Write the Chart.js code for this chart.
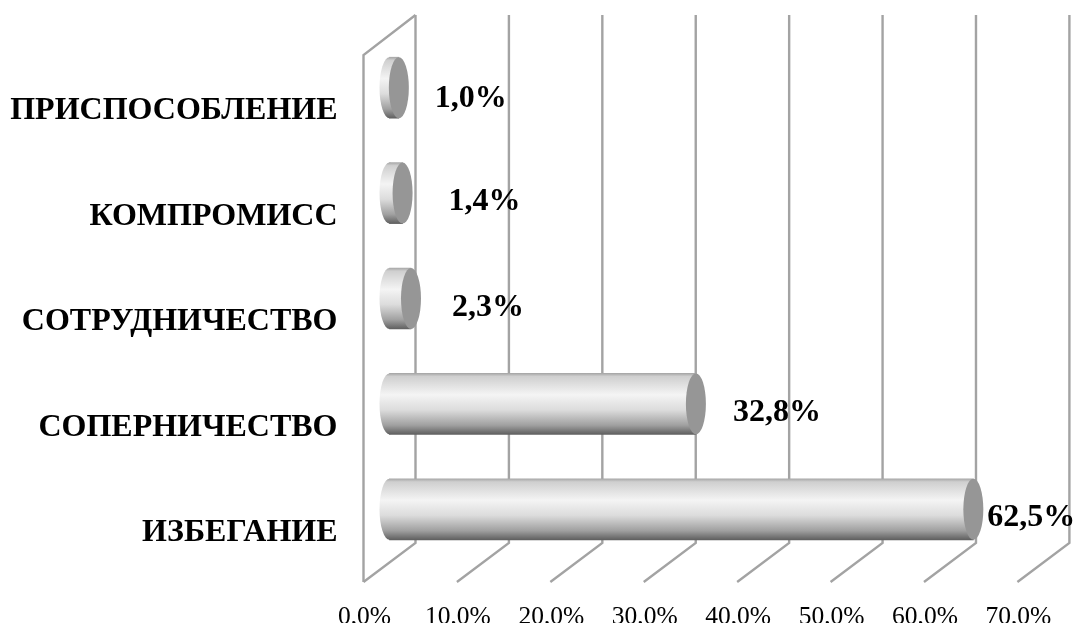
<!DOCTYPE html>
<html lang="ru">
<head>
<meta charset="utf-8">
<title>Стратегии поведения в конфликте</title>
<script src="https://cdn.jsdelivr.net/npm/chart.js@4"></script>
<style>
    html, body { margin: 0; padding: 0; background: #fff; overflow: hidden; }
    canvas { display: block; filter: blur(0.4px); }
</style>
</head>
<body>
<canvas id="chart" width="1074" height="623"></canvas>
<script>
// Data
const categories = ['ПРИСПОСОБЛЕНИЕ', 'КОМПРОМИСС', 'СОТРУДНИЧЕСТВО', 'СОПЕРНИЧЕСТВО', 'ИЗБЕГАНИЕ'];
const values = [1.0, 1.4, 2.3, 32.8, 62.5];
const xTicks = ['0,0%', '10,0%', '20,0%', '30,0%', '40,0%', '50,0%', '60,0%', '70,0%'];

// Fake 3D look
const WALL = { dx: 52, dy: -39, top: 15 };      // back wall offset from the front plane
const BAR_DEPTH = { dx: 26, dy: -20 };          // bars stand halfway into the box
const BAR_H = 61;
const CAP_RX = 10;
const GRID = '#a3a3a3';
const CAP = '#969696';
const FONT = '"Liberation Serif", "Times New Roman", serif';

// Hand placed data labels, the original has them dragged around
const labelShift = [[72, 11.5], [82, 9], [77, 9.5], [81, 9], [58, 8]];

function barGradient(ctx, y) {
    // the first option pass runs before the scales have pixels
    if (!Number.isFinite(y)) return '#cdcdcd';
    const g = ctx.createLinearGradient(0, y - BAR_H / 2, 0, y + BAR_H / 2);
    g.addColorStop(0, '#a8a8a8');
    g.addColorStop(0.05, '#cfcfcf');
    g.addColorStop(0.35, '#f4f4f4');
    g.addColorStop(0.6, '#dcdcdc');
    g.addColorStop(0.85, '#a0a0a0');
    g.addColorStop(1, '#606060');
    return g;
}

function ellipse(ctx, x, y, fill) {
    ctx.beginPath();
    ctx.ellipse(x, y, CAP_RX, BAR_H / 2, 0, 0, Math.PI * 2);
    ctx.fillStyle = fill;
    ctx.fill();
}

const box3d = {
    id: 'box3d',
    beforeDatasetsDraw(chart) {
        const { ctx, chartArea: area, scales: { x } } = chart;
        ctx.save();
        ctx.strokeStyle = GRID;
        ctx.lineWidth = 2.4;
        xTicks.forEach((t, i) => {
            const px = x.getPixelForValue(i * 10);
            ctx.beginPath();
            ctx.moveTo(px, area.bottom);
            ctx.lineTo(px + WALL.dx, area.bottom + WALL.dy);
            ctx.lineTo(px + WALL.dx, WALL.top);
            ctx.stroke();
        });
        // left side of the box
        const x0 = x.getPixelForValue(0);
        ctx.beginPath();
        ctx.moveTo(x0, area.bottom);
        ctx.lineTo(x0, area.top);
        ctx.lineTo(x0 + WALL.dx, WALL.top);
        ctx.stroke();
        ctx.restore();

        // everything from here to afterDatasetsDraw sits deeper in the box
        ctx.save();
        ctx.translate(BAR_DEPTH.dx, BAR_DEPTH.dy);
        chart.getDatasetMeta(0).data.forEach(bar => {
            ellipse(ctx, x0, bar.y, barGradient(ctx, bar.y));
            bar.options.backgroundColor = barGradient(ctx, bar.y);
        });
    },
    afterDatasetsDraw(chart) {
        const { ctx } = chart;
        chart.getDatasetMeta(0).data.forEach(bar => {
            ellipse(ctx, bar.x, bar.y, CAP);
        });
        ctx.restore();

        ctx.save();
        ctx.fillStyle = '#000';
        ctx.font = 'bold 32px ' + FONT;
        ctx.textAlign = 'center';
        ctx.textBaseline = 'middle';
        chart.getDatasetMeta(0).data.forEach((bar, i) => {
            const text = values[i].toFixed(1).replace('.', ',') + '%';
            ctx.fillText(text, bar.x + BAR_DEPTH.dx + labelShift[i][0], bar.y + BAR_DEPTH.dy + labelShift[i][1]);
        });
        ctx.restore();
    }
};

new Chart(document.getElementById('chart'), {
    type: 'bar',
    plugins: [box3d],
    data: {
        labels: categories,
        datasets: [{
            data: values,
            barThickness: BAR_H,
            clip: false,
            borderWidth: 0,
            backgroundColor: c => barGradient(c.chart.ctx, c.chart.scales.y.getPixelForValue(c.dataIndex))
        }]
    },
    options: {
        indexAxis: 'y',
        responsive: false,
        animation: false,
        layout: { padding: { top: 55, right: 56.6, left: 0, bottom: 0 } },
        plugins: { legend: { display: false }, tooltip: { enabled: false } },
        scales: {
            x: {
                min: 0,
                max: 70,
                afterFit: s => { s.height = 41; },
                grid: { display: false, drawTicks: false },
                border: { display: false },
                ticks: {
                    stepSize: 10,
                    maxRotation: 0,
                    autoSkip: false,
                    padding: 20,
                    labelOffset: 1,
                    color: '#000',
                    font: { family: FONT, size: 25.5 },
                    callback: (v, i) => xTicks[i]
                }
            },
            y: {
                // label overhang would otherwise push the plot up from the x axis
                afterFit: s => { s.width = 363.5; s.paddingTop = 0; s.paddingBottom = 0; },
                grid: { display: false, drawTicks: false },
                border: { display: false },
                ticks: {
                    padding: 26,
                    labelOffset: 3.5,
                    color: '#000',
                    font: { family: FONT, size: 32, weight: 'bold' }
                }
            }
        }
    }
});
</script>
</body>
</html>
